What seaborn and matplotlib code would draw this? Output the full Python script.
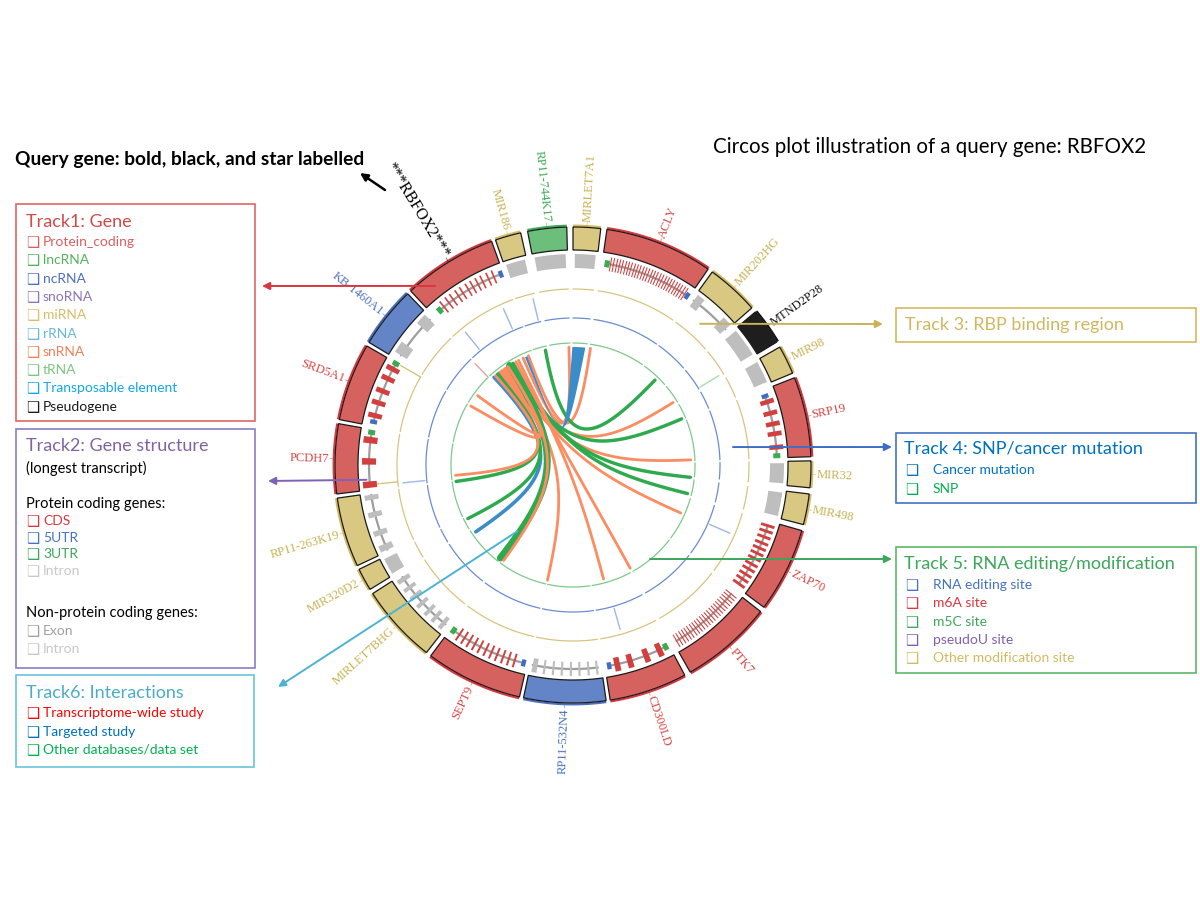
import numpy as np
import matplotlib
matplotlib.use("Agg")
import matplotlib.pyplot as plt
from matplotlib.patches import Polygon, Rectangle
import seaborn as sns

# ---------------- data (angles in degrees, clockwise from 12 o'clock) ----------------
gene_names = ["RP11-744K17", "MIRLET7A1", "ACLY", "MIR202HG", "MTND2P28", "MIR98", "SRP19",
              "MIR32", "MIR498", "ZAP70", "PTK7", "CD300LD", "RP11-532N4", "SEPT9",
              "MIRLET7BHG", "MIR320D2", "RP11-263K19", "PCDH7", "SRD5A1", "KB-1460A1",
              "RBFOX2", "MIR186"]
gene_types = ["lncRNA", "miRNA", "protein_coding", "miRNA", "pseudogene", "miRNA", "protein_coding",
              "miRNA", "miRNA", "protein_coding", "protein_coding", "protein_coding", "ncRNA",
              "protein_coding", "miRNA", "miRNA", "miRNA", "protein_coding", "protein_coding",
              "ncRNA", "protein_coding", "miRNA"]
gene_start = [-11.0, 0.0, 8.2, 35.8, 50.0, 60.3, 68.5, 89.0, 97.0, 106.0, 128.0, 152.0, 172.0,
              193.0, 218.0, 238.5, 245.0, 263.0, 281.0, 301.0, 317.0, 341.0]
gene_end = [-1.5, 6.7, 34.6, 48.7, 58.9, 67.3, 88.0, 95.5, 104.5, 126.7, 150.5, 171.0, 192.0,
            216.7, 237.3, 244.0, 262.0, 280.0, 300.0, 316.0, 340.0, 347.3]
query_gene = "RBFOX2"

# track 2: gene structure (longest transcript)
cds_sites = {
    "ACLY": [10.6, 11.4, 12.3, 13.1, 13.9, 14.8, 15.6, 16.4, 17.3, 18.1, 18.9, 19.8, 20.6, 21.4,
             22.3, 23.1, 23.9, 24.8, 25.6, 26.5, 27.3, 28.1, 28.9, 29.8, 30.6, 31.4, 32.3, 33.1],
    "SRP19": [72.0, 75.3, 78.4, 81.2, 85.0],
    "ZAP70": [107.3, 108.9, 110.6, 112.4, 114.0, 115.6, 117.2, 119.0, 120.6, 122.3, 123.9, 125.6],
    "PTK7": [129.2, 130.1, 131.0, 131.9, 132.9, 133.8, 134.7, 135.6, 136.5, 137.5, 138.4, 139.3,
             140.2, 141.2, 142.1, 143.0, 143.9, 144.9, 145.8, 146.7, 147.6, 148.6, 149.5],
    "CD300LD": [155.0, 159.0, 163.8, 167.5],
    "SEPT9": [196.6, 198.3, 200.0, 201.8, 203.5, 205.2, 207.0, 208.7, 210.4, 212.1, 213.8],
    "PCDH7": [264.5, 271.0, 277.0],
    "SRD5A1": [284.0, 287.7, 291.2, 295.0, 298.0],
    "RBFOX2": [320.8, 322.6, 324.1, 325.9, 327.4, 329.2, 330.7, 332.3, 333.8, 335.6, 337.2],
}
cds_width = {"ACLY": 0.3, "SRP19": 1.3, "ZAP70": 0.8, "PTK7": 0.3, "CD300LD": 1.6,
             "SEPT9": 0.55, "PCDH7": 1.8, "SRD5A1": 1.4, "RBFOX2": 0.45}
utr5_sites = {"ACLY": 34.0, "SRP19": 70.3, "CD300LD": 169.8, "SEPT9": 194.0,
              "SRD5A1": 282.2, "RBFOX2": 339.3}
utr3_sites = {"ACLY": 9.6, "SRP19": 87.4, "CD300LD": 153.0, "SEPT9": 215.8,
              "PCDH7": 279.2, "SRD5A1": 299.8, "RBFOX2": 319.3}
nc_exons = {
    "RP11-744K17": [(-10.5, -2.0)],
    "MIRLET7A1": [(0.5, 6.2)],
    "MIR202HG": [(36.3, 38.6), (45.6, 48.3)],
    "MTND2P28": [(50.5, 58.4)],
    "MIR98": [(60.8, 66.8)],
    "MIR32": [(89.5, 95.0)],
    "MIR498": [(97.5, 104.0)],
    "RP11-532N4": [(173.0, 173.6), (175.4, 176.0), (177.9, 178.5), (180.3, 180.9),
                   (182.8, 183.4), (185.2, 185.8), (187.7, 188.3), (190.0, 191.4)],
    "MIRLET7BHG": [(218.7, 219.9), (221.5, 222.6), (224.1, 225.2), (227.0, 228.1),
                   (229.8, 230.9), (232.6, 233.7), (235.4, 236.7)],
    "MIR320D2": [(239.0, 243.5)],
    "RP11-263K19": [(245.5, 247.3), (250.0, 251.5), (255.3, 256.8), (260.2, 261.6)],
    "KB-1460A1": [(302.5, 305.8), (312.3, 315.4)],
    "MIR186": [(341.5, 346.8)],
}

# tracks 3-5: site positions
rbp_sites = [264.5, 300.0]
mutation_sites = [113.5, 164.0, 264.0, 321.0, 336.0, 346.5]
snp_sites = [58.5]
m6a_sites = [316.0]

# track 6: interactions of the query gene
chord_src = [335.0, 337.8, 346.5, 324.0, 327.0, 323.0, 328.0, 329.5, 325.0, 331.0, 332.5,
             326.0, 327.5, 326.5, 318.0, 321.0, 320.0, 319.0, 322.0, 322.8]
chord_dst = [358.0, 8.5, 44.0, 58.0, 67.0, 87.5, 96.0, 104.0, 114.0, 151.0, 165.0,
             192.5, 218.0, 216.0, 235.5, 243.0, 262.0, 265.0, 300.0, 306.0]
chord_kind = ["transcriptome", "transcriptome", "other", "transcriptome", "other", "transcriptome",
              "other", "other", "transcriptome", "transcriptome", "transcriptome", "transcriptome",
              "other", "transcriptome", "targeted", "other", "other", "transcriptome",
              "transcriptome", "transcriptome"]
chord_px = [2.8, 2.8, 3.4, 2.8, 3.4, 2.8, 3.4, 3.4, 2.8, 2.8, 2.8, 2.8, 7.0, 2.8, 3.6, 3.4, 3.4,
            2.8, 2.8, 2.8]
ribbon_src = (336.0, 337.2)
ribbon_dst = (-0.3, 6.0)

# ---------------- style ----------------
type_fill = {"protein_coding": "#D6625F", "miRNA": "#D9C882", "lncRNA": "#6CBF7B",
             "ncRNA": "#6384C6", "pseudogene": "#1E1E1E"}
type_edge = {"protein_coding": "#D9363E", "miRNA": "#D4B95E", "lncRNA": "#3DAA55",
             "ncRNA": "#4A70C0", "pseudogene": "#111111"}
type_label = {"protein_coding": "#D64541", "miRNA": "#C8B050", "lncRNA": "#3DAA55",
              "ncRNA": "#4A70C0", "pseudogene": "#111111"}
chord_color = {"transcriptome": "#FC8D62", "targeted": "#3A8DC8", "other": "#2EAA4E"}

CX, CY = 573, 465
R_OUT, R_IN = 238, 215
R_STRUCT = 204
R_RBP, R_MUT, R_MOD, R_CHORD = 176, 147, 122, 118

sns.set_theme(style="white")
plt.rcParams["font.family"] = ["Lato", "DejaVu Sans"]
SERIF = ["Liberation Serif", "DejaVu Serif"]
BOX = ["DejaVu Sans"]


def to_xy(theta, r):
    t = np.deg2rad(np.asarray(theta, dtype=float))
    return CX + r * np.sin(t), CY - r * np.cos(t)


def band(t0, t1, r0, r1, n=40):
    ts = np.linspace(t0, t1, n)
    xo, yo = to_xy(ts, r1)
    xi, yi = to_xy(ts[::-1], r0)
    return np.column_stack([np.r_[xo, xi], np.r_[yo, yi]])


# cubic bezier: first handle at a shared focus near the centre, second handle
# pulled toward the target so links fan out radially
FOCUS = np.array(to_xy(325, 15))


def cubic(p0, c1, c2, p3, n=90):
    s = np.linspace(0, 1, n)[:, None]
    return (1 - s) ** 3 * p0 + 3 * (1 - s) ** 2 * s * c1 + 3 * (1 - s) * s ** 2 * c2 + s ** 3 * p3


def chord_path(a, b):
    return cubic(np.array(to_xy(a, R_CHORD)), FOCUS, np.array(to_xy(b, 25)),
                 np.array(to_xy(b, R_CHORD)))


fig = plt.figure(figsize=(12, 9), dpi=100)
ax = fig.add_axes([0, 0, 1, 1])
ax.set_xlim(0, 1200)
ax.set_ylim(900, 0)
ax.axis("off")

# ---------------- track 1: genes ----------------
for name, gtype, a, b in zip(gene_names, gene_types, gene_start, gene_end):
    ax.add_patch(Polygon(band(a, b, R_IN, R_OUT), closed=True, fc=type_fill[gtype],
                         ec="#1A1A1A", lw=0.9, zorder=3))
    xs, ys = to_xy(np.linspace(a, b, 40), R_OUT + 1.4)
    ax.plot(xs, ys, color=type_edge[gtype], lw=1.5, zorder=2, solid_capstyle="butt")
    mid = ((a + b) / 2) % 360
    if mid < 180:
        rot, ha = 90 - mid, "left"
    else:
        rot, ha = 270 - mid, "right"
    is_query = name == query_gene
    col = "black" if is_query else type_label[gtype]
    txt = "***" + name + "***" if is_query else name
    tx, ty = to_xy([mid, mid], [R_OUT + 1, R_OUT + 5])
    ax.plot(tx, ty, color=col, lw=0.6, alpha=0.6, zorder=2)
    lx, ly = to_xy(mid, R_OUT + 6)
    ax.text(lx, ly, txt, rotation=rot, rotation_mode="anchor", ha=ha, va="center",
            fontsize=11.5 if is_query else 9, color=col, family=SERIF, zorder=4)

# ---------------- track 2: gene structure ----------------
for name in gene_names:
    if name in cds_sites:
        feats = cds_sites[name] + [utr5_sites.get(name, np.nan), utr3_sites.get(name, np.nan)]
        lo, hi = np.nanmin(feats), np.nanmax(feats)
        xs, ys = to_xy(np.linspace(lo, hi, 40), R_STRUCT)
        ax.plot(xs, ys, color="#9E9E9E", lw=1.6, zorder=2)
        w = cds_width[name]
        for c in cds_sites[name]:
            ax.add_patch(Polygon(band(c - w / 2, c + w / 2, R_STRUCT - 7, R_STRUCT + 7),
                                 closed=True, fc="#D23F3F", ec="none", zorder=3))
        if name in utr5_sites:
            c = utr5_sites[name]
            ax.add_patch(Polygon(band(c - 0.6, c + 0.6, R_STRUCT - 3.5, R_STRUCT + 3.5),
                                 closed=True, fc="#3F6CC4", ec="none", zorder=3))
        if name in utr3_sites:
            c = utr3_sites[name]
            ax.add_patch(Polygon(band(c - 0.7, c + 0.7, R_STRUCT - 3.5, R_STRUCT + 3.5),
                                 closed=True, fc="#3CAA4E", ec="none", zorder=3))
    elif name in nc_exons:
        ex = nc_exons[name]
        if len(ex) > 1:
            xs, ys = to_xy(np.linspace(ex[0][0], ex[-1][1], 40), R_STRUCT)
            ax.plot(xs, ys, color="#9E9E9E", lw=1.6, zorder=2)
        for e0, e1 in ex:
            ax.add_patch(Polygon(band(e0, e1, R_STRUCT - 7, R_STRUCT + 7), closed=True,
                                 fc="#BEBEBE", ec="none", zorder=3))

# ---------------- tracks 3-5: circles and sites ----------------
for r, col in [(R_RBP, "#D8C47E"), (R_MUT, "#6A8DD0"), (R_MOD, "#7DC98C")]:
    for a, b in zip(gene_start, gene_end):
        ts = np.linspace(a, b, 50)
        xs, ys = to_xy(ts, r)
        sns.lineplot(x=xs, y=ys, sort=False, estimator=None, color=col, lw=0.9, ax=ax)

for sites, r0, r1, col in [(rbp_sites, R_RBP, R_RBP + 23, "#D8C47E"),
                           (mutation_sites, R_MUT + 2, R_MUT + 24, "#9FB6E4"),
                           (snp_sites, R_MUT + 2, R_MUT + 24, "#A8DDB0"),
                           (m6a_sites, R_MOD + 1, R_MOD + 19, "#E8A0A0")]:
    for s in sites:
        xs, ys = to_xy([s, s], [r0, r1])
        ax.plot(xs, ys, color=col, lw=1.0, zorder=2)

# ---------------- track 6: interactions ----------------
for s, d, k, px in zip(chord_src, chord_dst, chord_kind, chord_px):
    pts = chord_path(s, d)
    sns.lineplot(x=pts[:, 0], y=pts[:, 1], sort=False, estimator=None,
                 color=chord_color[k], lw=px * 0.72, ax=ax)

side1 = cubic(np.array(to_xy(ribbon_dst[1], R_CHORD)), FOCUS, FOCUS,
              np.array(to_xy(ribbon_src[0], R_CHORD)))
side2 = cubic(np.array(to_xy(ribbon_src[1], R_CHORD)), FOCUS, FOCUS,
              np.array(to_xy(ribbon_dst[0], R_CHORD)))
arc_d = np.column_stack(to_xy(np.linspace(ribbon_dst[0], ribbon_dst[1], 10), R_CHORD))
ribbon = np.vstack([arc_d, side1, side2])
ax.add_patch(Polygon(ribbon, closed=True, fc=chord_color["targeted"], ec="none", zorder=3))

# ---------------- annotations ----------------
def arrow(start, end, col, lw=1.4):
    ax.annotate("", xy=end, xytext=start,
                arrowprops=dict(arrowstyle="-|>", color=col, lw=lw, mutation_scale=11,
                                shrinkA=0, shrinkB=0), zorder=5)


arrow(to_xy(322.4, 226), (262, 286), "#D9363E")
arrow(to_xy(265.9, 207), (268, 481), "#7F62B8")
arrow(to_xy(220.0, 86.5), (278, 687), "#4BB3D3")
arrow(to_xy(42.0, 190), (883, 324), "#C8B35A")
arrow(to_xy(83.6, 161), (892, 447), "#3F6CC4")
arrow(to_xy(140.7, 121.5), (892, 559), "#3CA65A")
arrow((385, 190), (360, 173), "black", lw=1.8)

ax.text(15, 160, "Query gene: bold, black, and star labelled", fontsize=13.8, fontweight="bold",
        color="black", va="center", ha="left")
ax.text(713, 147, "Circos plot illustration of a query gene: RBFOX2", fontsize=14.8,
        color="black", va="center", ha="left")

# ---------------- legend boxes ----------------
TITLE = 13


def box(x0, y0, x1, y1, col):
    ax.add_patch(Rectangle((x0, y0), x1 - x0, y1 - y0, fill=False, ec=col, lw=1.2, zorder=5))


def item(x, y, text, col, gap=16):
    ax.text(x - 1, y + 0.5, "\u2751", fontsize=10.5, color=col, family=BOX, va="center", ha="left")
    ax.text(x + gap, y, text, fontsize=10, color=col, va="center", ha="left")


track1_labels = ["Protein_coding", "lncRNA", "ncRNA", "snoRNA", "miRNA", "rRNA", "snRNA",
                 "tRNA", "Transposable element", "Pseudogene"]
track1_colors = ["#D95F5F", "#55B35A", "#4F6FC0", "#8C73C0", "#D8BE6A", "#6AB8D8", "#F0805A",
                 "#7DC67D", "#10A8E8", "#1A1A1A"]
box(16, 204, 255, 421, "#E06666")
ax.text(26, 222, "Track1: Gene", fontsize=TITLE, color="#CF4A4A", va="center")
for i, (t, c) in enumerate(zip(track1_labels, track1_colors)):
    item(27, 242 + i * 18.3, t, c)

box(16, 429, 255, 668, "#8E7CC3")
ax.text(26, 446, "Track2: Gene structure", fontsize=TITLE, color="#8064A2", va="center")
ax.text(26, 468, "(longest transcript)", fontsize=10.5, color="black", va="center")
ax.text(26, 504, "Protein coding genes:", fontsize=10.5, color="black", va="center")
for yy, t, c in [(521, "CDS", "#D9363E"), (538, "5UTR", "#4472C4"), (554, "3UTR", "#3CA65A"),
                 (571, "Intron", "#C8C8C8")]:
    item(27, yy, t, c)
ax.text(26, 613, "Non-protein coding genes:", fontsize=10.5, color="black", va="center")
for yy, t, c in [(631, "Exon", "#A0A0A0"), (649, "Intron", "#C8C8C8")]:
    item(27, yy, t, c)

box(16, 675, 254, 767, "#6BC4DA")
ax.text(26, 693, "Track6: Interactions", fontsize=TITLE, color="#4BACC6", va="center")
for yy, t, c in [(713, "Transcriptome-wide study", "#FF0000"), (732, "Targeted study", "#0070C0"),
                 (750, "Other databases/data set", "#00B050")]:
    item(27, yy, t, c)

box(896, 308, 1196, 342, "#D4B95E")
ax.text(905, 325, "Track 3: RBP binding region", fontsize=TITLE, color="#D0B860", va="center")

box(896, 433, 1196, 503, "#4472C4")
ax.text(904, 449, "Track 4: SNP/cancer mutation", fontsize=TITLE, color="#0070C0", va="center")
for yy, t, c in [(470, "Cancer mutation", "#0070C0"), (489, "SNP", "#00B050")]:
    item(906, yy, t, c, gap=27)

box(896, 547, 1196, 673, "#5DB86A")
ax.text(904, 564, "Track 5: RNA editing/modification", fontsize=TITLE, color="#3CA65A", va="center")
for yy, t, c in [(585, "RNA editing site", "#4472C4"), (603, "m6A site", "#D9363E"),
                 (622, "m5C site", "#3CA65A"), (640, "pseudoU site", "#7F5FAF"),
                 (658, "Other modification site", "#D4B95E")]:
    item(906, yy, t, c, gap=27)

ax.set_xlim(0, 1200)
ax.set_ylim(900, 0)
fig.savefig("out.png", dpi=100)
